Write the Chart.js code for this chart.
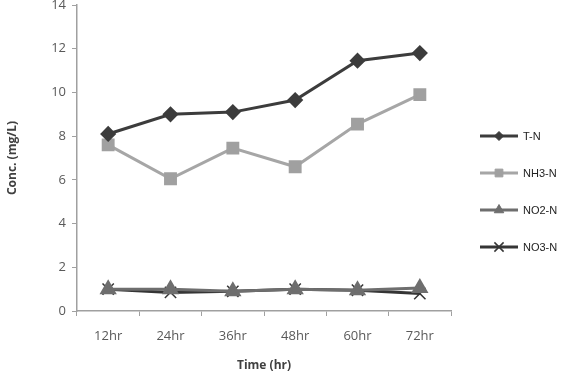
<!DOCTYPE html>
<html>
<head>
<meta charset="utf-8">
<script src="https://cdn.jsdelivr.net/npm/chart.js@4"></script>
<style>
  html, body { margin: 0; padding: 0; background: #fff; }
  #wrap { width: 583px; height: 371px; }
</style>
</head>
<body>
<div id="wrap"><canvas id="chart" width="583" height="371"></canvas></div>
<script>
// données
const times = ['12hr', '24hr', '36hr', '48hr', '60hr', '72hr'];
const tN   = [8.1, 9.0, 9.1, 9.65, 11.45, 11.8];
const nh3N = [7.6, 6.05, 7.45, 6.6, 8.55, 9.9];
const no2N = [1.0, 1.0, 0.9, 1.0, 0.95, 1.05];
const no3N = [1.0, 0.85, 0.9, 1.0, 0.95, 0.8];
const yTicks = [0, 2, 4, 6, 8, 10, 12, 14];

const tickFont = { family: 'Open Sans, Liberation Sans, sans-serif', size: 13 };

// légende maison : trait + marqueur, à droite du graphique
const lineLegend = {
  id: 'lineLegend',
  afterDraw(chart) {
    const ctx = chart.ctx;
    const area = chart.chartArea;
    const x0 = area.right + 29;
    let y = area.top + 131;
    chart.data.datasets.forEach(ds => {
      ctx.save();
      ctx.strokeStyle = ds.borderColor;
      ctx.lineWidth = 3;
      ctx.beginPath();
      ctx.moveTo(x0, y);
      ctx.lineTo(x0 + 38, y);
      ctx.stroke();
      ctx.fillStyle = ds.pointBackgroundColor;
      ctx.strokeStyle = ds.pointBorderColor;
      ctx.lineWidth = ds.pointBorderWidth || 1;
      Chart.helpers.drawPoint(ctx, {
        pointStyle: ds.pointStyle,
        radius: ds.pointRadius - 1.5,
        rotation: 0,
        borderWidth: ds.pointBorderWidth || 1
      }, x0 + 19, y);
      ctx.fillStyle = '#222';
      ctx.font = '11px "Liberation Sans", Arial, sans-serif';
      ctx.textBaseline = 'middle';
      ctx.fillText(ds.label, x0 + 43, y + 1);
      ctx.restore();
      y += 37;
    });
  }
};

new Chart(document.getElementById('chart').getContext('2d'), {
  type: 'line',
  data: {
    labels: times,
    datasets: [
      {
        label: 'T-N', data: tN,
        borderColor: '#3c3c3c', borderWidth: 3,
        pointStyle: 'rectRot', pointRadius: 6,
        pointBackgroundColor: '#3c3c3c', pointBorderColor: '#3c3c3c'
      },
      {
        label: 'NH3-N', data: nh3N,
        borderColor: '#a6a6a6', borderWidth: 3,
        pointStyle: 'rect', pointRadius: 7,
        pointBackgroundColor: '#a0a0a0', pointBorderColor: '#a0a0a0'
      },
      {
        label: 'NO2-N', data: no2N,
        borderColor: '#6e6e6e', borderWidth: 3,
        pointStyle: 'triangle', pointRadius: 7,
        pointBackgroundColor: '#6e6e6e', pointBorderColor: '#6e6e6e'
      },
      {
        label: 'NO3-N', data: no3N,
        borderColor: '#353535', borderWidth: 3,
        pointStyle: 'crossRot', pointRadius: 8, pointBorderWidth: 1.5,
        pointBackgroundColor: '#353535', pointBorderColor: '#353535'
      }
    ]
  },
  options: {
    responsive: false,
    animation: false,
    layout: { autoPadding: false, padding: { top: 5, right: 132, left: 0, bottom: 0 } },
    plugins: {
      legend: { display: false },
      tooltip: { enabled: false }
    },
    scales: {
      x: {
        offset: true,
        grid: { offset: true, drawOnChartArea: false, drawTicks: true, tickLength: 5, color: '#a0a0a0' },
        border: { color: '#a0a0a0', width: 1.5 },
        ticks: { font: tickFont, color: '#595959', padding: 12 },
        title: {
          display: true, text: 'Time (hr)', color: '#404040',
          font: { family: 'Open Sans, sans-serif', size: 12, weight: 'bold' },
          padding: { top: 4, bottom: -2 }
        },
        afterFit(s) { s.height = 60; s.paddingLeft = 0; s.paddingRight = 0; }
      },
      y: {
        min: 0, max: 14,
        afterBuildTicks(s) { s.ticks = yTicks.map(v => ({ value: v })); },
        grid: { drawOnChartArea: false, drawTicks: true, tickLength: 5, color: '#a0a0a0' },
        border: { color: '#a0a0a0', width: 1.5 },
        ticks: { font: tickFont, color: '#595959', padding: 6 },
        title: {
          display: true, text: 'Conc. (mg/L)', color: '#404040',
          font: { family: 'Open Sans, sans-serif', size: 12, weight: 'bold' },
          padding: { top: 5, bottom: 4 }
        },
        afterFit(s) { s.width = 77; s.paddingTop = 0; s.paddingBottom = 0; }
      }
    }
  },
  plugins: [lineLegend]
});
</script>
</body>
</html>
